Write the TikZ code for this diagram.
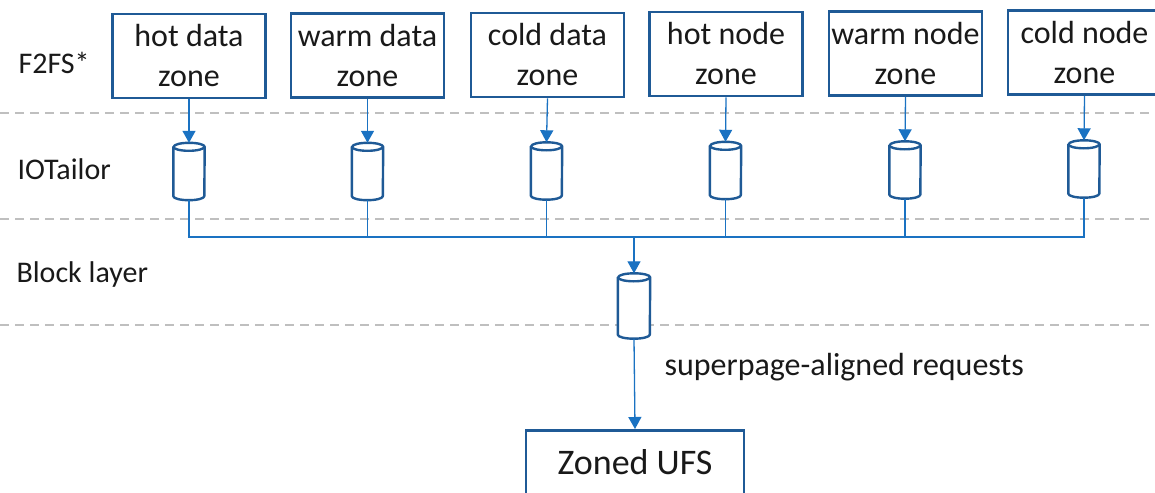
\documentclass[tikz,border=0pt]{standalone}
\usepackage{fontspec}
\setmainfont{Carlito}
\usetikzlibrary{arrows.meta}
\definecolor{boxblue}{HTML}{1F5A96}
\definecolor{lineblue}{HTML}{1A72C2}
\definecolor{dashgray}{HTML}{BFBFBF}
\tikzset{
  zonebox/.style={draw=boxblue, line width=2.6pt, minimum width=153pt, minimum height=84pt,
    inner sep=0pt, align=center, font=\fontsize{32}{40}\selectfont, text=black!90},
  cyl/.style={minimum width=31pt, minimum height=57pt, inner sep=0pt},
  cylline/.style={draw=boxblue, line width=2.4pt, fill=white, line join=round},
  conn/.style={draw=lineblue, line width=1.3pt},
  arr/.style={conn, -{Triangle[width=13pt,length=12pt]}},
  layer/.style={anchor=base west, font=\fontsize{30}{36}\selectfont, text=black!90},
  sep/.style={draw=dashgray, line width=1.6pt, dash pattern=on 9pt off 6pt},
}
\begin{document}
\begin{tikzpicture}[x=1pt,y=-1pt]
\useasboundingbox (0,0) rectangle (1155,492);
% dashed separators
\coordinate (s1l) at (0,113); \coordinate (s1r) at (1155,113);
\coordinate (s2l) at (0,219); \coordinate (s2r) at (1155,219);
\coordinate (s3l) at (0,325); \coordinate (s3r) at (1155,325);
\draw[sep] (s1l) -- (s1r);
\draw[sep] (s2l) -- (s2r);
\draw[sep] (s3l) -- (s3r);
% layer labels
\node[layer] (lf2fs) at (15,74) {F2FS*};
\node[layer] (liot) at (14,179) {IOTailor};
\node[layer] (lblk) at (13,282) {Block layer};
% zone boxes
\node[zonebox] (b1) at (189,56) {hot data\\zone};
\node[zonebox] (b2) at (367.5,55.5) {warm data\\zone};
\node[zonebox] (b3) at (547.5,55) {cold data\\zone};
\node[zonebox] (b4) at (726,54) {hot node\\zone};
\node[zonebox] (b5) at (905.5,53.5) {warm node\\zone};
\node[zonebox] (b6) at (1084.5,52.5) {cold node\\zone};
% cylinders (anchor nodes)
\node[cyl] (c1) at (189,171.5) {};
\node[cyl] (c2) at (367.5,171.5) {};
\node[cyl] (c3) at (546.5,171) {};
\node[cyl] (c4) at (725.5,170.5) {};
\node[cyl] (c5) at (905,170) {};
\node[cyl] (c6) at (1084,169) {};
\node[cyl, minimum width=32pt, minimum height=65pt] (cm) at (634,306) {};
\foreach \c/\r in {c1/15.5,c2/15.5,c3/15.5,c4/15.5,c5/15.5,c6/15.5,cm/16} {
  \draw[cylline] ([yshift=-4pt]\c.north west) -- ([yshift=4pt]\c.south west)
    arc[start angle=180, end angle=360, x radius=\r pt, y radius=4pt]
    -- ([yshift=-4pt]\c.north east)
    arc[start angle=0, end angle=180, x radius=\r pt, y radius=4pt] -- cycle;
  \draw[cylline, fill=none] ([yshift=-4pt]\c.north west)
    arc[start angle=180, end angle=360, x radius=\r pt, y radius=4pt];
}
% arrows into cylinders
\foreach \i in {1,...,6} {\draw[arr] (b\i.south) -- (c\i.north);}
% bus
\coordinate (j) at (634,237);
\draw[conn] (c1.south) -- (c1.south |- j) -- (c6.south |- j) -- (c6.south);
\foreach \i in {2,...,5} {\draw[conn] (c\i.south) -- (c\i.south |- j);}
\draw[arr] (j) -- (cm.north);
% UFS
\node[draw=boxblue, line width=2.6pt, anchor=north, minimum width=218pt, inner sep=0pt,
  text height=44.5pt, text depth=35.5pt, font=\fontsize{36}{42}\selectfont, text=black!90]
  (ufs) at (635,429) {Zoned UFS};
\draw[arr] (cm.south) -- (ufs.north);
\node[anchor=base west, font=\fontsize{32}{38}\selectfont, text=black!90] (req) at (661,375) {superpage-aligned requests};
\end{tikzpicture}
\end{document}
